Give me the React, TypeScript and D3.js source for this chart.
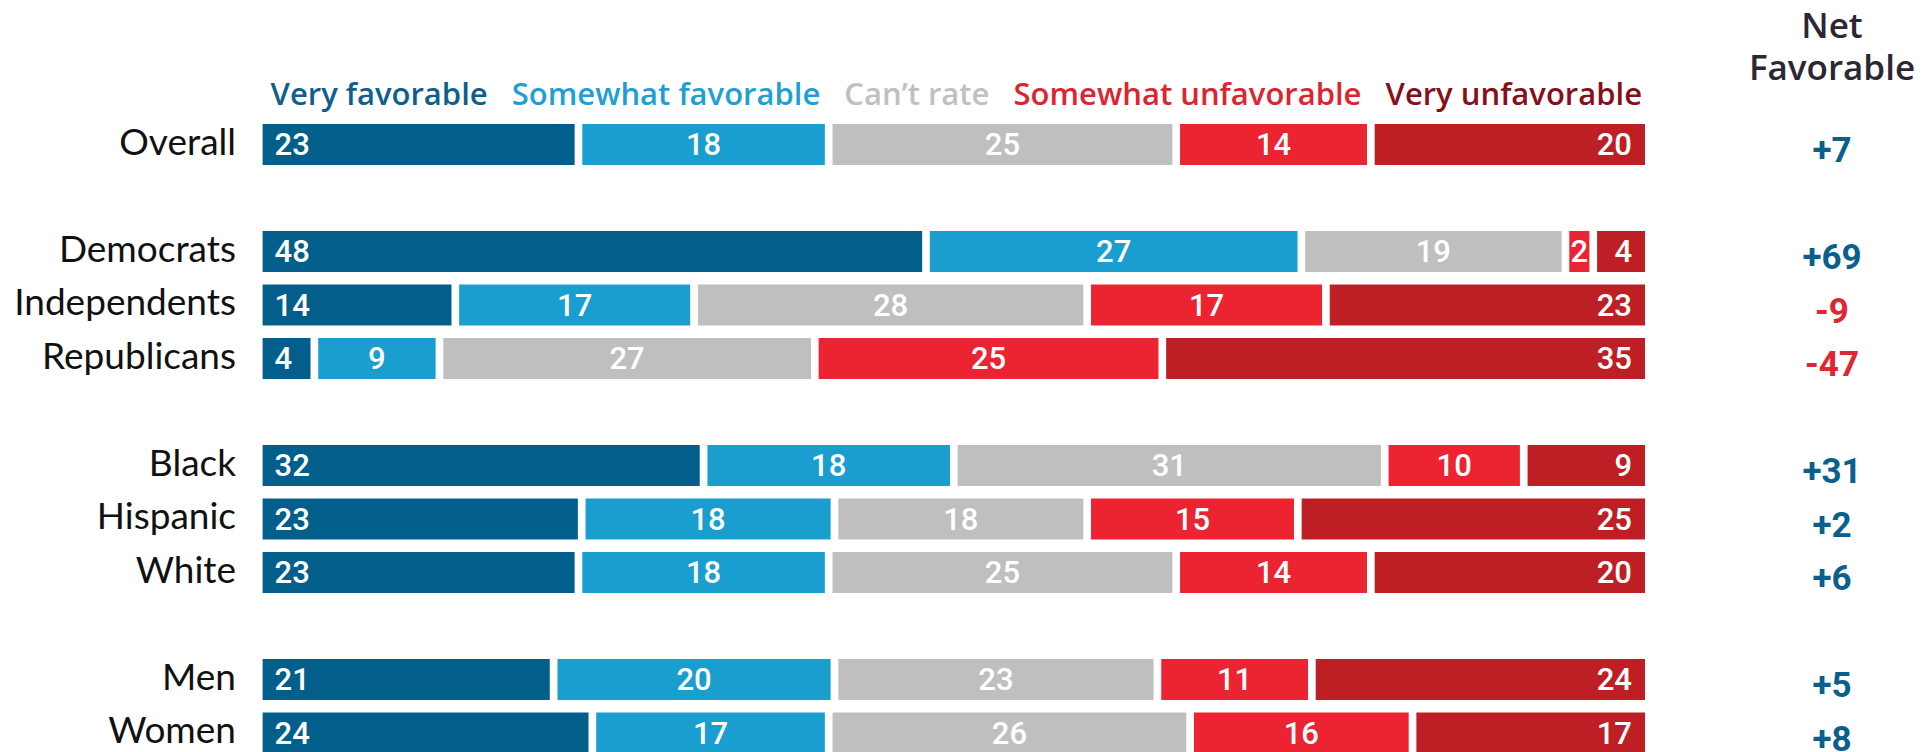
import { useEffect, useRef } from "react"
import * as d3 from "d3"

// groups of rows, a blank slot sits between groups
const groups = [
  ["Overall"],
  ["Democrats", "Independents", "Republicans"],
  ["Black", "Hispanic", "White"],
  ["Men", "Women"],
]
const categories = groups.flat()

const seriesNames = ["Very favorable", "Somewhat favorable", "Can\u2019t rate", "Somewhat unfavorable", "Very unfavorable"]
const veryFavorable = [23, 48, 14, 4, 32, 23, 23, 21, 24]
const somewhatFavorable = [18, 27, 17, 9, 18, 18, 18, 20, 17]
const cantRate = [25, 19, 28, 27, 31, 18, 25, 23, 26]
const somewhatUnfavorable = [14, 2, 17, 25, 10, 15, 14, 11, 16]
const veryUnfavorable = [20, 4, 23, 35, 9, 25, 20, 24, 17]
const netFavorable = [7, 69, -9, -47, 31, 2, 6, 5, 8]

const barColors = ["#025f8b", "#1a9dcf", "#bfbfbf", "#ec2331", "#bd1f25"]
const legendColors = ["#0e5f8c", "#1f9fd4", "#c0c0c0", "#db2530", "#86101a"]

const W = 1926
const H = 752

export default function App() {
  const svgRef = useRef<SVGSVGElement>(null)

  useEffect(() => {
    if (!svgRef.current) return
    const root = d3.select(svgRef.current)
    root.selectAll("*").remove()

    const series = [veryFavorable, somewhatFavorable, cantRate, somewhatUnfavorable, veryUnfavorable]

    // slots with blanks between groups
    const slots: string[] = []
    groups.forEach((g, i) => {
      if (i > 0) slots.push(`gap${i}`)
      g.forEach((c) => slots.push(c))
    })

    const gap = 7.7
    const x = d3.scaleLinear().domain([0, 1]).range([262.6, 1645 + gap])
    const pad = 0.234
    const step = 53.5
    const y = d3
      .scaleBand<string>()
      .domain(slots)
      .range([124, 124 + step * (slots.length - pad)])
      .paddingInner(pad)
      .paddingOuter(0)
    const bw = y.bandwidth()

    const rows = categories.map((c, i) => {
      const vals = series.map((s) => s[i])
      const total = d3.sum(vals)
      let cum = 0
      const segs = vals.map((v, k) => {
        const s = { k, v, x0: cum / total, x1: (cum + v) / total }
        cum += v
        return s
      })
      return { c, segs, net: netFavorable[i] }
    })

    const rowG = root
      .selectAll("g.row")
      .data(rows)
      .enter()
      .append("g")
      .attr("class", "row")
      .attr("transform", (d) => `translate(0,${y(d.c)})`)

    rowG
      .append("text")
      .attr("x", 236)
      .attr("y", bw / 2 + 10)
      .attr("text-anchor", "end")
      .attr("font-family", "Lato, sans-serif")
      .attr("font-size", 37)
      .attr("fill", "#111")
      .text((d) => d.c)

    const seg = rowG
      .selectAll("g.seg")
      .data((d) => d.segs)
      .enter()
      .append("g")
      .attr("class", "seg")

    seg
      .append("rect")
      .attr("x", (d) => x(d.x0))
      .attr("y", 0)
      .attr("width", (d) => x(d.x1) - x(d.x0) - gap)
      .attr("height", bw)
      .attr("fill", (d) => barColors[d.k])

    seg
      .append("text")
      .attr("x", (d) => {
        if (d.k === 0) return x(d.x0) + 12
        if (d.k === 4) return x(d.x1) - gap - 13
        return (x(d.x0) + x(d.x1) - gap) / 2
      })
      .attr("y", bw / 2 + 11)
      .attr("text-anchor", (d) => (d.k === 0 ? "start" : d.k === 4 ? "end" : "middle"))
      .attr("font-family", "Roboto, sans-serif")
      .attr("font-weight", 500)
      .attr("font-size", 31)
      .attr("fill", "#fff")
      .text((d) => d.v)

    // net favorable column
    const netX = 1832
    rowG
      .append("text")
      .attr("x", netX)
      .attr("y", bw / 2 + 18)
      .attr("text-anchor", "middle")
      .attr("font-family", "Roboto, sans-serif")
      .attr("font-weight", 700)
      .attr("font-size", 35)
      .attr("fill", (d) => (d.net >= 0 ? "#0a5f8b" : "#e02631"))
      .text((d) => (d.net > 0 ? `+${d.net}` : `${d.net}`))

    const header = root
      .append("text")
      .attr("text-anchor", "middle")
      .attr("font-family", "'Open Sans', sans-serif")
      .attr("font-weight", 600)
      .attr("font-size", 35)
      .attr("fill", "#2b2733")
    header.append("tspan").attr("x", netX).attr("y", 38).text("Net")
    header.append("tspan").attr("x", netX).attr("y", 80).text("Favorable")

    // legend, spread between bar ends
    const legend = root
      .selectAll("text.legend")
      .data(seriesNames)
      .enter()
      .append("text")
      .attr("class", "legend")
      .attr("y", 105)
      .attr("font-family", "'Open Sans', sans-serif")
      .attr("font-weight", 600)
      .attr("font-size", 31)
      .attr("fill", (_, i) => legendColors[i])
      .text((d) => d)
    const widths = legend.nodes().map((n) => (n as SVGTextElement).getComputedTextLength())
    const lStart = x(0) + 8
    const lEnd = x(1) - gap - 3
    const space = (lEnd - lStart - d3.sum(widths)) / (widths.length - 1)
    let cx = lStart
    legend.attr("x", (_, i) => {
      const v = cx
      cx += widths[i] + space
      return v
    })
  }, [])

  return (
    <svg
      ref={svgRef}
      width={W}
      height={H}
      style={{ position: "absolute", left: 0, top: 0, background: "#fff" }}
    />
  )
}
